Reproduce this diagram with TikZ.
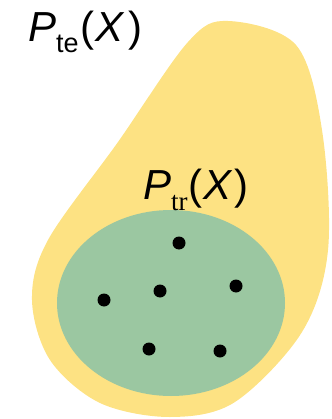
\documentclass[tikz,border=0pt]{standalone}
\usepackage{fontspec}
\setmainfont{Liberation Sans}
\newfontfamily\subserif{Liberation Serif}
\usetikzlibrary{calc}

\definecolor{testyellow}{HTML}{FDE283}
\definecolor{traingreen}{HTML}{9BC7A1}

\begin{document}
\begin{tikzpicture}[
    x=1pt, y=-1pt,
    blob/.style={fill=testyellow, draw=none},
    support/.style={fill=traingreen, draw=none},
    sample/.style={circle, fill=black, inner sep=0pt, minimum size=13pt},
    dlabel/.style={anchor=base west, inner sep=0pt, font=\fontsize{42}{42}\selectfont}
]
\useasboundingbox (0,0) rectangle (331,419);

% =========================================================
% TEST DISTRIBUTION (yellow blob)
% =========================================================
\fill[blob] plot[smooth cycle, tension=0.55] coordinates {
    (228,21) (296,45) (322,130) (328,250) (302,332) (235,402)
    (170,417) (100,403) (50,360) (32,300) (48,240) (118,142) (188,42)};

\node[dlabel] (pte) at (28,42)
{\textit{P}\raisebox{-0.24em}{\fontsize{27}{27}\selectfont te}\kern2pt(\kern1pt\textit{X}\kern3pt)};

% =========================================================
% TRAINING DISTRIBUTION (green ellipse)
% =========================================================
\fill[support] (171,303) ellipse [x radius=114, y radius=93];

\node[dlabel] (ptr) at (143,200)
{\textit{P}\raisebox{-0.24em}{\fontsize{27}{27}\selectfont\subserif tr}\kern1pt(\kern1pt\textit{X}\kern1pt)};

% ------------------- samples -------------------
\node[sample] (s1) at (179,243) {};
\node[sample] (s2) at (160,291) {};
\node[sample] (s3) at (104,300) {};
\node[sample] (s4) at (236,286) {};
\node[sample] (s5) at (149,349) {};
\node[sample] (s6) at (220,351) {};

\end{tikzpicture}
\end{document}
